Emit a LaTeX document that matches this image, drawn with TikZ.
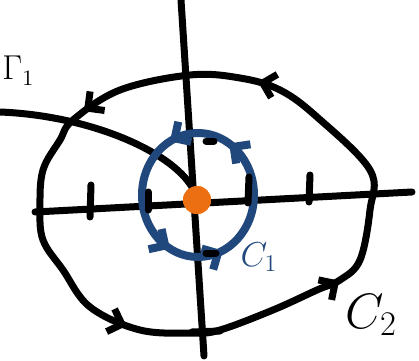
\documentclass[tikz,border=0pt]{standalone}
\usetikzlibrary{arrows.meta, decorations.markings}
\definecolor{loopBlue}{RGB}{33,72,124}
\definecolor{poleOrange}{RGB}{236,112,18}

\begin{document}
\begin{tikzpicture}[x=0.5pt, y=0.5pt,
    pen/.style={line width=3.5pt, line cap=round, line join=round},
    barb/.tip={Straight Barb[length=6pt, width=12pt]},
    bigflow/.style={postaction={decorate}, decoration={markings,
        mark=at position 0.154 with {\arrow{barb}},
        mark=at position 0.348 with {\arrow{barb}},
        mark=at position 0.632 with {\arrow{barb}},
        mark=at position 0.870 with {\arrow{barb}}}},
    smallflow/.style={postaction={decorate}, decoration={markings,
        mark=at position 0.16 with {\arrow{barb}},
        mark=at position 0.33 with {\arrow{barb}},
        mark=at position 0.67 with {\arrow{barb}},
        mark=at position 0.82 with {\arrow{barb}}}},
    tag/.style={inner sep=0pt}
]
\useasboundingbox (0,0) rectangle (419,360);

% axes
\coordinate (xl) at (35,148);
\coordinate (xr) at (412,168);
\coordinate (yb) at (204,4);
\coordinate (yt) at (181,360);
\draw[pen] (xl) -- (xr);
\draw[pen] (yb) -- (yt);

% outer contour C2
\draw[pen, bigflow] plot[smooth cycle, tension=0.6] coordinates {
    (370,150) (370,190) (317,243) (280,270) (240,282) (190,285) (120,270)
    (73,240) (60,220) (43,190) (40,153) (43,120) (63,90) (90,53) (140,30)
    (193,27) (220,30) (273,50) (317,70) (340,80) (360,100)};

% path from the left into the pole
\coordinate (gstart) at (0,248);
\node[circle, fill=poleOrange, minimum width=14pt, inner sep=0pt] (pole) at (197,160) {};
\draw[pen] (gstart) .. controls (100,244) and (190,200) .. (pole.center);

% inner contour C1
\coordinate (cmid) at (198,165);
\draw[pen, loopBlue, line width=4pt, smallflow] (cmid) ellipse [x radius=56, y radius=62];
\node[circle, fill=poleOrange, minimum width=14pt, inner sep=0pt] at (pole) {};

% ticks
\draw[pen] (90,143) -- (91,175);
\draw[pen] (148,150) -- (148,168);
\draw[pen] (248,157) -- (249,183);
\draw[pen] (309,158) -- (310,185);
\draw[pen] (206,219) -- (214,219);
\draw[pen] (206,107) -- (216,107);
\draw[pen] (192,28) -- (220,29);

% labels
\node[tag, anchor=base west, font=\fontsize{16}{16}\selectfont] (gamma) at (2,280) {$\Gamma_1$};
\node[tag, font=\fontsize{23}{23}\selectfont] (ctwo) at (371,45) {$C_2$};
\node[tag, text=loopBlue, font=\fontsize{18}{18}\selectfont] (cone) at (259,103) {$C_1$};
\end{tikzpicture}
\end{document}
